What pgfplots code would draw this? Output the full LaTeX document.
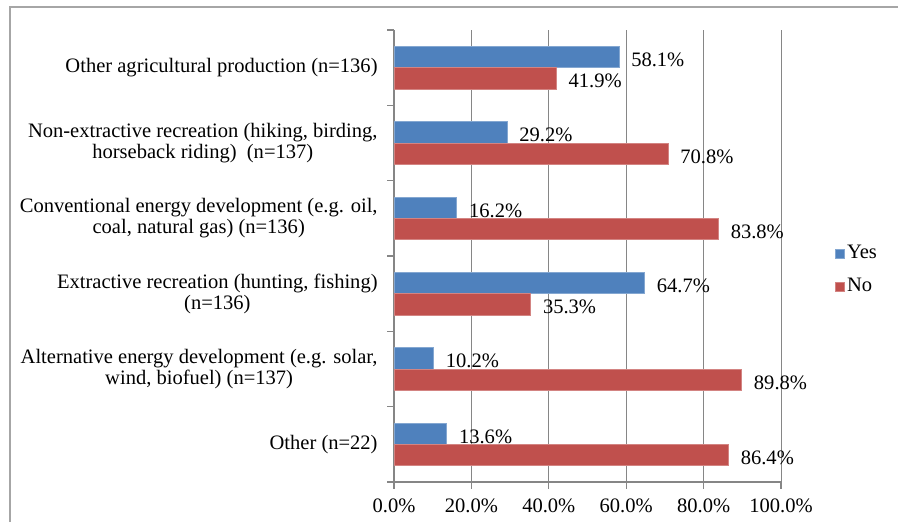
\documentclass[border=0pt]{standalone}
\usepackage{fontspec}
\setmainfont{Liberation Serif}
\usepackage{pgfplots}
\pgfplotsset{compat=1.18}
\definecolor{yesblue}{HTML}{4F81BD}
\definecolor{nored}{HTML}{C0504D}
\definecolor{gridgray}{HTML}{868686}
\definecolor{framegray}{HTML}{A6A6A6}
\newcommand{\chartfont}{\fontsize{15.4}{16}\selectfont}
\begin{document}
\chartfont
\begin{tikzpicture}[font=\chartfont]
\useasboundingbox (0pt,0pt) rectangle (673.5pt,391.5pt);
\draw[framegray, line width=0.9pt] (7.5pt,0pt) -- (7.5pt,386.25pt) -- (673.5pt,386.25pt);
\begin{axis}[
  at={(295.5pt,30pt)}, anchor=south west,
  scale only axis, width=290.25pt, height=339pt,
  xbar, bar width=16pt,
  xmin=0, xmax=100, ymin=-0.5, ymax=5.5,
  axis x line*=bottom, axis y line*=left,
  axis line style={gridgray, line width=0.8pt, -},
  tick align=outside,
  major tick length=5pt,
  tick style={gridgray, line width=0.8pt},
  xtick={0,20,...,100},
  xmajorgrids,
  grid style={gridgray, line width=0.75pt},
  /pgf/number format/assume math mode=true,
  xticklabel={\pgfmathprintnumber[fixed,fixed zerofill,precision=1]{\tick}\%},
  xticklabel style={yshift=-2.5pt, font=\chartfont},
  ytick={-0.5,0.5,...,5.5},
  yticklabels={},
  extra y ticks={0,1,2,3,4,5},
  extra y tick labels={
    {Other (n=22)},
    {Alternative energy development (e.g. solar,\\wind, biofuel) (n=137)},
    {Extractive recreation (hunting, fishing)\\(n=136)},
    {Conventional energy development (e.g. oil,\\coal, natural gas) (n=136)},
    {Non-extractive recreation (hiking, birding,\\horseback riding)\ \ (n=137)},
    {Other agricultural production (n=136)}
  },
  extra y tick style={major tick length=0pt, tick style={draw=none},
    yticklabel style={align=center, xshift=-7pt, font=\chartfont}},
  point meta=x,
  nodes near coords={\pgfmathprintnumber[fixed,fixed zerofill,precision=1]{\pgfplotspointmeta}\%},
  every node near coord/.append style={anchor=west, xshift=4pt, yshift=-2pt,
    font=\chartfont, text=black},
  legend style={at={(1.128,0.468)}, anchor=west, draw=none, fill=none,
    font=\chartfont, row sep=7.75pt,
    nodes={text height=10pt, text depth=3pt, inner sep=2pt}},
  legend cell align=left,
  legend image code/.code={\fill[#1] (0pt,-3.4pt) rectangle (6.8pt,3.4pt);},
]
\addplot[fill=yesblue, draw=yesblue!70!white, line width=0.4pt, bar shift=8pt]
  coordinates {(13.6,0) (10.2,1) (64.7,2) (16.2,3) (29.2,4) (58.1,5)};
\addplot[fill=nored, draw=nored!70!white, line width=0.4pt, bar shift=-8pt]
  coordinates {(86.4,0) (89.8,1) (35.3,2) (83.8,3) (70.8,4) (41.9,5)};
\legend{Yes, No}
\end{axis}
\end{tikzpicture}
\end{document}
